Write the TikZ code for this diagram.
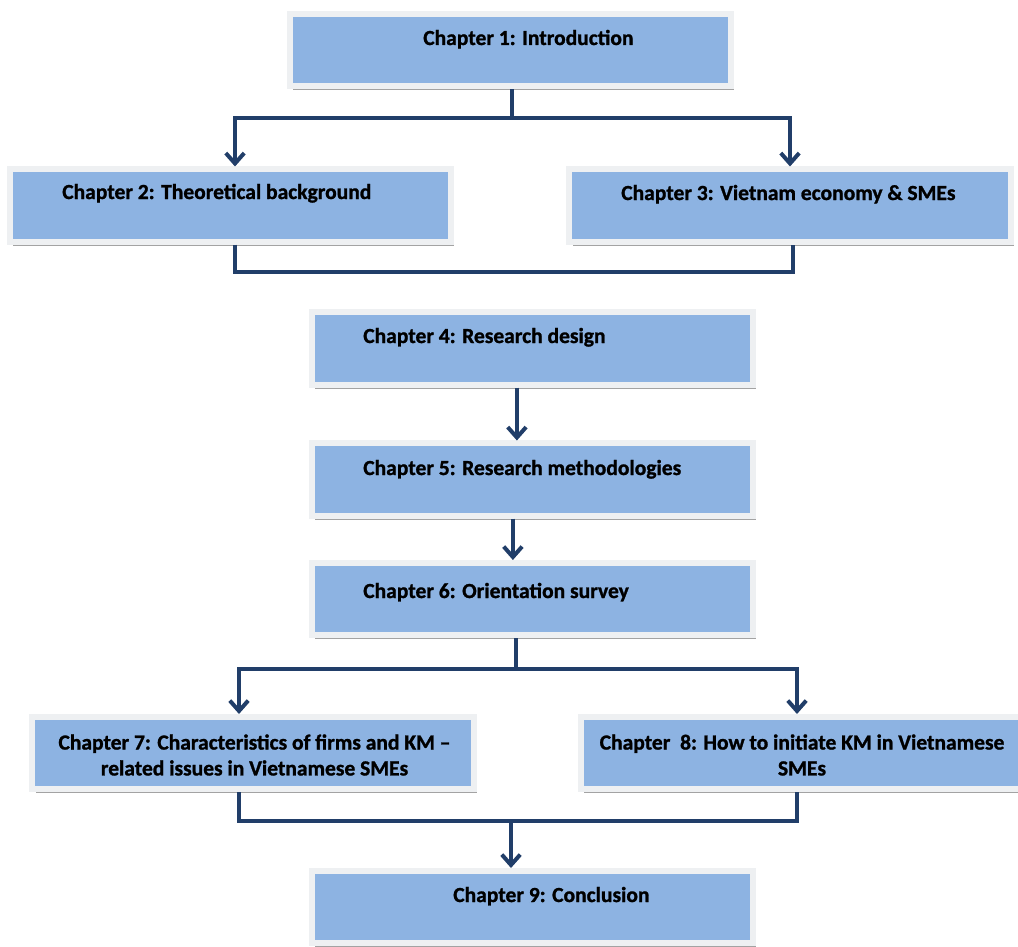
\documentclass[tikz,border=0pt]{standalone}
\usepackage{fontspec}
\setmainfont{Carlito}[BoldFeatures={FakeBold=1.2}]
\definecolor{chapblue}{RGB}{141, 179, 226}
\definecolor{linknavy}{RGB}{33, 62, 105}
\definecolor{frameedge}{RGB}{238, 240, 242}
\usepackage{tikz}
\usetikzlibrary{arrows.meta, positioning, calc, shadows}

\begin{document}
\begin{tikzpicture}[x=0.025cm, y=-0.025cm,
  chapbox/.style={fill=chapblue, draw=frameedge, line width=0.15cm, minimum width=11.025cm, minimum height=1.8cm, inner sep=0pt,
    drop shadow={shadow xshift=0.08cm, shadow yshift=-0.1cm, fill=black!40, opacity=0.9}},
  chaptext/.style={font=\fontsize{15.3}{18.4}\selectfont\bfseries, inner sep=0pt},
  link/.style={draw=linknavy, line width=0.1cm},
  arrow/.style={link, -{Straight Barb[length=0.26cm, width=0.46cm]}}]
  \useasboundingbox (0,0) rectangle (1018,946);

  % Chapter boxes
  \node[chapbox] (ch1) at (510.5, 50) {};
  \node[chapbox] (ch2) at (230.5, 205.5) {};
  \node[chapbox] (ch3) at (790, 205.5) {};
  \node[chapbox] (ch4) at (532.5, 348.5) {};
  \node[chapbox] (ch5) at (532.5, 479.5) {};
  \node[chapbox] (ch6) at (532.5, 599) {};
  \node[chapbox] (ch7) at (253, 753) {};
  \node[chapbox] (ch8) at (801.5, 753) {};
  \node[chapbox] (ch9) at (532.5, 907) {};

  % Titles
  \node[chaptext, anchor=base west] (t1) at (423, 45) {Chapter 1: Introduction};
  \node[chaptext, anchor=base west] (t2) at (62, 199) {Chapter 2: Theoretical background};
  \node[chaptext, anchor=base west] (t3) at (621, 200) {Chapter 3: Vietnam economy \& SMEs};
  \node[chaptext, anchor=base west] (t4) at (363, 343) {Chapter 4: Research design};
  \node[chaptext, anchor=base west] (t5) at (363, 475) {Chapter 5: Research methodologies};
  \node[chaptext, anchor=base west] (t6) at (363, 598) {Chapter 6: Orientation survey};
  \node[chaptext, align=center] (t7) at (254.5, 755) {Chapter 7: Characteristics of firms and KM --\\related issues in Vietnamese SMEs};
  \node[chaptext, align=center] (t8) at (802, 755) {Chapter~ 8: How to initiate KM in Vietnamese\\SMEs};
  \node[chaptext, anchor=base west] (t9) at (453, 902) {Chapter 9: Conclusion};

  % Junctions
  \coordinate (j1) at (512, 118);
  \coordinate (k2) at (235, 272);
  \coordinate (j2) at (793, 272);
  \coordinate (j3) at (516, 669);
  \coordinate (k7) at (239, 821);
  \coordinate (j4) at (797, 821);
  \coordinate (m9) at (511, 821);

  % Chapter 1 splits into 2 and 3
  \draw[link] (ch1.south -| j1) -- (j1);
  \draw[arrow] (j1) -| (ch2.north -| k2);
  \draw[arrow] (j1) -| (ch3.north);
  \draw[link] (ch2.south -| k2) -- (k2) -- (j2) -- (ch3.south -| j2);

  % Research chain
  \draw[arrow] ([xshift=-0.39cm]ch4.south) -- ([xshift=-0.39cm]ch5.north);
  \draw[arrow] ([xshift=-0.49cm]ch5.south) -- ([xshift=-0.49cm]ch6.north);

  % Chapter 6 splits into 7 and 8
  \draw[link] (ch6.south -| j3) -- (j3);
  \draw[arrow] (j3) -| (ch7.north -| k7);
  \draw[arrow] (j3) -| (ch8.north -| j4);
  \draw[link] (ch7.south -| k7) -- (k7) -- (j4) -- (ch8.south -| j4);
  \draw[arrow] (m9) -- (ch9.north -| m9);
\end{tikzpicture}
\end{document}
